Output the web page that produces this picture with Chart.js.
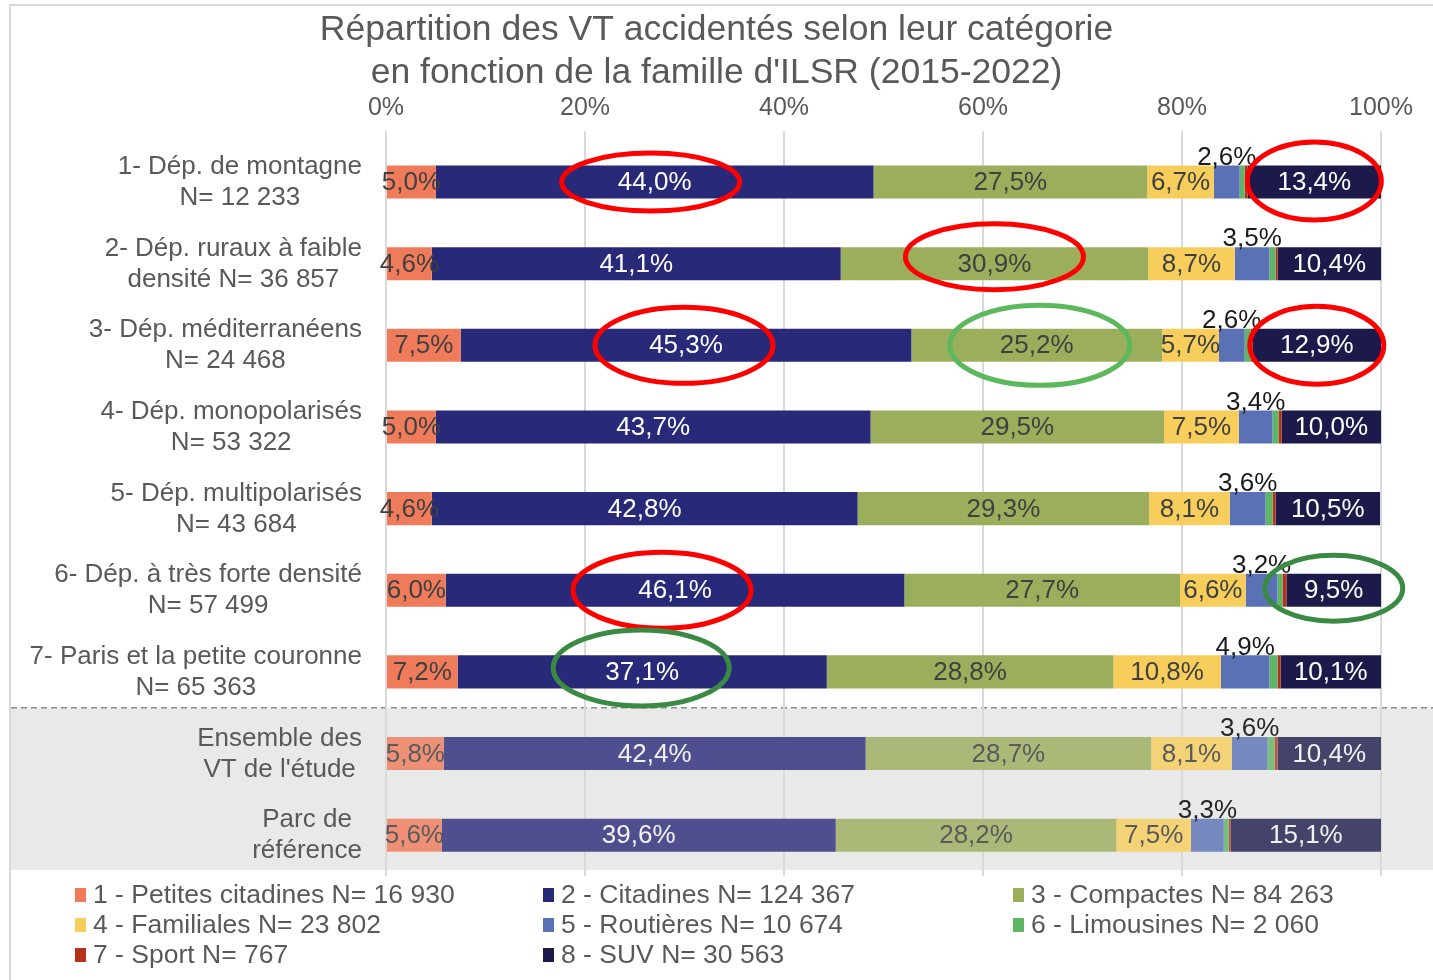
<!DOCTYPE html>
<html><head><meta charset="utf-8">
<script src="https://cdn.jsdelivr.net/npm/chart.js@4/dist/chart.umd.min.js"></script>
<style>html,body{margin:0;padding:0;background:#fff}canvas{display:block}</style>
</head><body>
<canvas id="c" width="1433" height="980"></canvas>
<script>
const titleLines = ["Répartition des VT accidentés selon leur catégorie", "en fonction de la famille d'ILSR (2015-2022)"];
const categories = [
  ["1- Dép. de montagne", "N= 12 233"],
  ["2- Dép. ruraux à faible", "densité N= 36 857"],
  ["3- Dép. méditerranéens", "N= 24 468"],
  ["4- Dép. monopolarisés", "N= 53 322"],
  ["5- Dép. multipolarisés", "N= 43 684"],
  ["6- Dép. à très forte densité", "N= 57 499"],
  ["7- Paris et la petite couronne", "N= 65 363"],
  ["Ensemble des", "VT de l'étude"],
  ["Parc de", "référence"]
];
const seriesNames = [
  "1 - Petites citadines N= 16 930",
  "2 - Citadines N= 124 367",
  "3 - Compactes N= 84 263",
  "4 - Familiales N= 23 802",
  "5 - Routières N= 10 674",
  "6 - Limousines N= 2 060",
  "7 - Sport N= 767",
  "8 - SUV N= 30 563"
];
const petitesCitadines = [5.0, 4.6, 7.5, 5.0, 4.6, 6.0, 7.2, 5.8, 5.6];
const citadines        = [44.0, 41.1, 45.3, 43.7, 42.8, 46.1, 37.1, 42.4, 39.6];
const compactes        = [27.5, 30.9, 25.2, 29.5, 29.3, 27.7, 28.8, 28.7, 28.2];
const familiales       = [6.7, 8.7, 5.7, 7.5, 8.1, 6.6, 10.8, 8.1, 7.5];
const routieres        = [2.6, 3.5, 2.6, 3.4, 3.6, 3.2, 4.9, 3.6, 3.3];
const limousines       = [0.5, 0.6, 0.6, 0.6, 0.7, 0.5, 0.8, 0.7, 0.5];
const sport            = [0.3, 0.2, 0.2, 0.3, 0.3, 0.4, 0.3, 0.3, 0.2];
const suv              = [13.4, 10.4, 12.9, 10.0, 10.5, 9.5, 10.1, 10.4, 15.1];
const xTickValues = [0, 20, 40, 60, 80, 100];
const referenceRows = [7, 8];
// annotations: [row, series, colour, dx, dy, rx, ry]
const highlights = [
  [0, 1, '#ff0000', -4, 0, 89, 29],
  [0, 7, '#ff0000', 0, -1, 67, 39],
  [1, 2, '#ff0000', 0, -7, 89, 33],
  [2, 1, '#ff0000', -2, 0, 89, 38],
  [2, 2, '#5cb85c', 3, 0, 90, 40],
  [2, 7, '#ff0000', 0, 0, 67, 39],
  [5, 1, '#ff0000', -13, 0, 89, 38],
  [5, 7, '#3a8a44', 0, -2, 69, 33],
  [6, 1, '#3a8a44', -1, -4, 88, 38]
];

const seriesData = [petitesCitadines, citadines, compactes, familiales, routieres, limousines, sport, suv];
const baseColors = ['#F07B5A', '#29297A', '#9BAE5B', '#F7CE5B', '#5A72B5', '#5DB565', '#B5321A', '#1C1A4B'];
const labelColors = ['#404040', '#ffffff', '#404040', '#404040', '#1a1a1a', null, null, '#ffffff'];
const labelColorsRef = ['#5a5a5a', '#f2f2f2', '#5a5a5a', '#5a5a5a', '#262626', null, null, '#f2f2f2'];

function blend(hex, t) {
  const n = parseInt(hex.slice(1), 16);
  const r = (n >> 16) & 255, g = (n >> 8) & 255, b = n & 255;
  const m = v => Math.round(v * (1 - t) + 230 * t);
  return `rgb(${m(r)},${m(g)},${m(b)})`;
}
const fmt = v => v.toFixed(1).replace('.', ',') + '%';
const FONT = "'Liberation Sans', Arial, sans-serif";
Chart.defaults.font.family = FONT;

const datasets = seriesData.map((d, i) => ({
  label: seriesNames[i],
  data: d,
  yAxisID: 'y',
  backgroundColor: d.map((_, r) => referenceRows.includes(r) ? blend(baseColors[i], 0.2) : baseColors[i]),
  borderWidth: 0,
  categoryPercentage: 1,
  barPercentage: 0.405
}));

const decorPlugin = {
  id: 'decor',
  beforeDraw(chart) {
    const ctx = chart.ctx, ca = chart.chartArea, ys = chart.scales.y;
    ctx.save();
    ctx.fillStyle = '#fff';
    ctx.fillRect(0, 0, chart.width, chart.height);
    const top = ys.getPixelForValue(referenceRows[0] - 0.5) - 5;
    const bottom = ca.bottom - 6;
    ctx.fillStyle = '#e9e9e9';
    ctx.fillRect(11, top, chart.width - 11, bottom - top);
    ctx.strokeStyle = '#8c8c8c';
    ctx.lineWidth = 1.5;
    ctx.setLineDash([6, 4]);
    ctx.beginPath();
    ctx.moveTo(11, top);
    ctx.lineTo(chart.width, top);
    ctx.stroke();
    ctx.setLineDash([]);
    ctx.strokeStyle = '#d9d9d9';
    ctx.lineWidth = 2;
    ctx.strokeRect(10, 5, chart.width + 20, chart.height + 20);
    ctx.restore();
  },
  afterDatasetsDraw(chart) {
    const ctx = chart.ctx, ys = chart.scales.y;
    ctx.save();
    ctx.font = '26px ' + FONT;
    ctx.textAlign = 'center';
    ctx.textBaseline = 'middle';
    chart.data.datasets.forEach((ds, i) => {
      if (!labelColors[i]) return;
      const meta = chart.getDatasetMeta(i);
      meta.data.forEach((el, r) => {
        const p = el.getProps(['x', 'base', 'y', 'height'], true);
        const cx = (p.x + p.base) / 2;
        let cy = p.y + 1;
        if (i === 4) cy = p.y - p.height / 2 - 8;
        ctx.fillStyle = referenceRows.includes(r) ? labelColorsRef[i] : labelColors[i];
        ctx.fillText(fmt(ds.data[r]), cx, cy);
      });
    });
    ctx.fillStyle = '#595959';
    ctx.font = '26px ' + FONT;
    const right = chart.chartArea.left - 24;
    categories.forEach((lines, r) => {
      const w = Math.max(...lines.map(l => ctx.measureText(l).width));
      const cx = right - w / 2;
      const cy = ys.getPixelForValue(r);
      lines.forEach((l, k) => ctx.fillText(l, cx, cy - 15 + k * 31));
    });
    ctx.restore();
  },
  afterDraw(chart) {
    const ctx = chart.ctx;
    ctx.save();
    highlights.forEach(([r, s, col, dx, dy, rx, ry]) => {
      const el = chart.getDatasetMeta(s).data[r];
      const p = el.getProps(['x', 'base', 'y'], true);
      ctx.strokeStyle = col;
      ctx.lineWidth = 5;
      ctx.beginPath();
      ctx.ellipse((p.x + p.base) / 2 + dx, p.y + dy, rx, ry, 0, 0, Math.PI * 2);
      ctx.stroke();
    });
    const colX = [75, 543, 1013], rowY = [895, 925, 955];
    ctx.font = '26.5px ' + FONT;
    ctx.textAlign = 'left';
    ctx.textBaseline = 'middle';
    chart.data.datasets.forEach((ds, i) => {
      const x = colX[i % 3], y = rowY[Math.floor(i / 3)];
      ctx.fillStyle = baseColors[i];
      ctx.fillRect(x, y - 7, 11, 14);
      ctx.fillStyle = '#595959';
      ctx.fillText(ds.label, x + 18, y + 1);
    });
    ctx.restore();
  }
};

new Chart(document.getElementById('c'), {
  type: 'bar',
  data: { labels: categories, datasets },
  options: {
    indexAxis: 'y',
    responsive: false,
    animation: false,
    events: [],
    layout: { padding: { left: 0, right: 0, top: 0, bottom: 104 } },
    plugins: {
      legend: { display: false },
      tooltip: { enabled: false },
      title: {
        display: true,
        text: titleLines,
        color: '#595959',
        font: { size: 35.5, weight: 'normal', family: FONT, lineHeight: 1.2 },
        padding: { top: 9, bottom: 0 }
      }
    },
    scales: {
      x: {
        position: 'top',
        stacked: true,
        min: 0,
        max: 100,
        afterBuildTicks: s => { s.ticks = xTickValues.map(v => ({ value: v })); },
        afterFit: s => { s.height = 47; },
        ticks: {
          callback: v => v + '%',
          color: '#595959',
          font: { size: 25, family: FONT },
          padding: 8,
          maxRotation: 0
        },
        grid: { color: '#d9d9d9', lineWidth: 2, tickLength: 10, drawTicks: true },
        border: { display: false }
      },
      y: {
        stacked: true,
        display: true,
        afterFit: s => { s.width = 386; },
        ticks: { display: false },
        grid: { display: false },
        border: { display: false }
      },
      yRight: {
        type: 'category',
        position: 'right',
        display: true,
        afterFit: s => { s.width = 52; },
        ticks: { display: false },
        grid: { display: false },
        border: { display: false }
      }
    }
  },
  plugins: [decorPlugin]
});
</script>
</body></html>
